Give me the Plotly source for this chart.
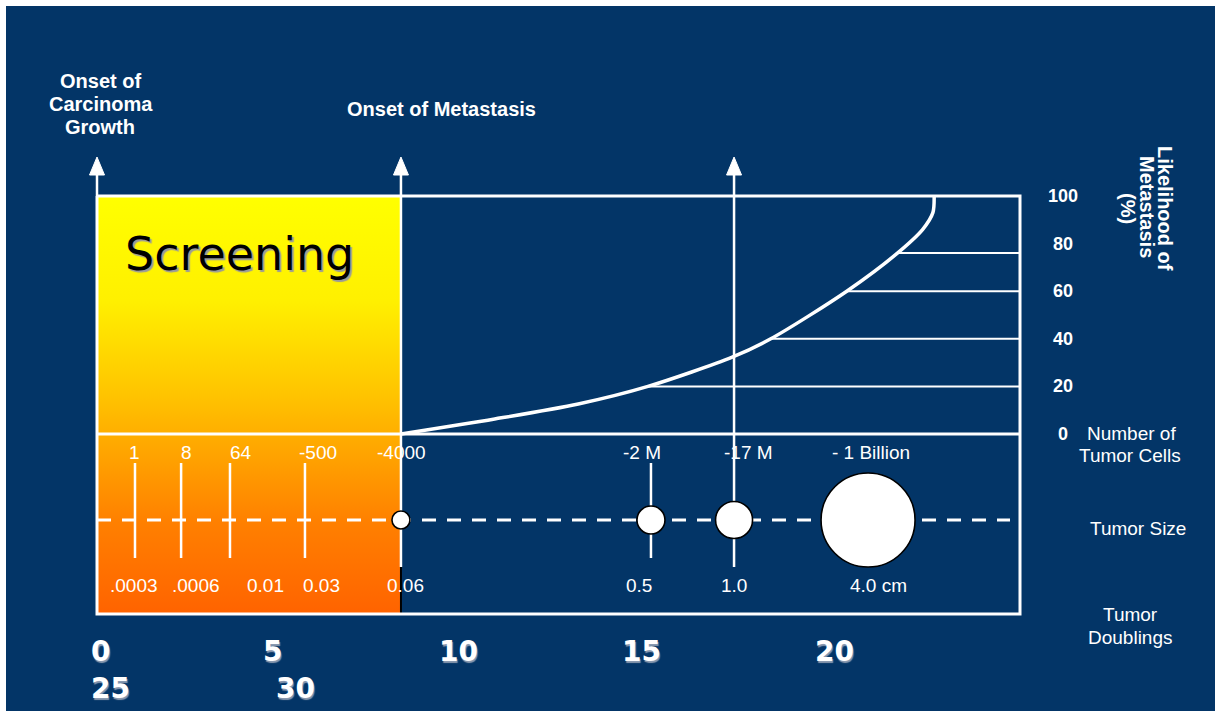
import plotly.graph_objects as go

# ---------------- data ----------------
# Likelihood of metastasis (%) against tumor doublings
curve_doublings = [12.0, 15.7, 19.0, 21.75, 25.1, 26.6, 29.6, 31.6, 32.6, 33.0, 33.05]
curve_percent = [0, 6.3, 12.6, 20, 32.4, 40, 60, 76, 86, 93, 100]

# Horizontal reference levels running from the curve to the right edge
level_percent = [20, 40, 60, 76]
level_start = [21.75, 26.6, 29.6, 31.6]

percent_ticks = [0, 20, 40, 60, 80, 100]

# Number of tumor cells / tumor size (cm) along the doubling scale
cell_pos = [1.5, 3.32, 5.25, 8.21, 12.0, 21.87, 25.15, 30.44]
cell_labels = ["1", "8", "64", "-500", "-4000", "-2 M", "-17 M", "- 1 Billion"]
size_labels = [".0003", ".0006", "0.01", "0.03", "0.06", "0.5", "1.0", "4.0 cm"]

# Tumor spheres drawn on the size line
sphere_pos = [12.0, 21.87, 25.15, 30.44]
sphere_cm = [0.06, 0.5, 1.0, 4.0]

# Milestones (tumor doublings)
carcinoma_onset = 0.0
metastasis_onset = 12.0
detection_mark = 25.15

doubling_labels = ["0", "5", "10", "15", "20", "25", "30"]

# ---------------- layout geometry ----------------
W, H = 1215, 711
K = 25.33          # pixels per doubling
P = 2.38           # pixels per percent
X0, Y0 = 97, 434   # pixel origin (0 doublings, 0 %)


def X(px):
    return (px - X0) / K


def Y(py):
    return (Y0 - py) / P


NAVY = "#033567"
WHITE = "#ffffff"
FONT = "Liberation Sans, Arial, sans-serif"

x_right = X(1020)
y_bottom = Y(614)
y_size_line = Y(520)
y_tick_top, y_tick_bot = Y(463), Y(558)
y_long_bot = Y(567)
y_arrow_tip, y_arrow_base = Y(157), Y(175)
half_head = 7.5 / K

fig = go.Figure()

# gradient screening column
fig.add_trace(go.Scatter(
    x=[carcinoma_onset, metastasis_onset, metastasis_onset, carcinoma_onset, carcinoma_onset],
    y=[y_bottom, y_bottom, 100, 100, y_bottom],
    fill="toself", mode="lines", line=dict(width=0),
    fillgradient=dict(type="vertical", colorscale=[
        [0.0, "#ff6300"], [0.22, "#ff8000"], [0.43, "#ffae00"],
        [0.52, "#ffc300"], [0.75, "#fff000"], [1.0, "#ffff00"]]),
    hoverinfo="skip", showlegend=False))

# dark edge of the column below the milestone line
fig.add_trace(go.Scatter(x=[metastasis_onset, metastasis_onset], y=[y_long_bot, y_bottom],
                         mode="lines", line=dict(color="#000000", width=2),
                         hoverinfo="skip", showlegend=False))

# frame and divider
fig.add_trace(go.Scatter(
    x=[0, x_right, x_right, 0, 0, None, 0, x_right],
    y=[100, 100, y_bottom, y_bottom, 100, None, 0, 0],
    mode="lines", line=dict(color=WHITE, width=3),
    hoverinfo="skip", showlegend=False))

# milestone verticals
fig.add_trace(go.Scatter(
    x=[carcinoma_onset, carcinoma_onset, None,
       metastasis_onset, metastasis_onset, None,
       detection_mark, detection_mark],
    y=[100, y_arrow_base + 1, None,
       y_arrow_base + 1, y_long_bot, None,
       y_arrow_base + 1, y_long_bot],
    mode="lines", line=dict(color=WHITE, width=2.5),
    hoverinfo="skip", showlegend=False))

# arrowheads
ax, ay = [], []
for m in [carcinoma_onset, metastasis_onset, detection_mark]:
    ax += [m - half_head, m + half_head, m, m - half_head, None]
    ay += [y_arrow_base, y_arrow_base, y_arrow_tip, y_arrow_base, None]
fig.add_trace(go.Scatter(x=ax, y=ay, fill="toself", fillcolor=WHITE, mode="lines",
                         line=dict(color=WHITE, width=1),
                         hoverinfo="skip", showlegend=False))

# reference levels
lx, ly = [], []
for s, lv in zip(level_start, level_percent):
    lx += [s, x_right, None]
    ly += [lv, lv, None]
fig.add_trace(go.Scatter(x=lx, y=ly, mode="lines", line=dict(color=WHITE, width=2),
                         hoverinfo="skip", showlegend=False))

# likelihood curve
fig.add_trace(go.Scatter(x=curve_doublings, y=curve_percent, mode="lines",
                         line=dict(color=WHITE, width=3.5, shape="spline", smoothing=0.8),
                         hoverinfo="skip", showlegend=False))

# dashed tumor-size line
fig.add_trace(go.Scatter(x=[0, X(1010)], y=[y_size_line, y_size_line], mode="lines",
                         line=dict(color=WHITE, width=3, dash="14px,11px"),
                         hoverinfo="skip", showlegend=False))

# small cell-count ticks
tx, ty = [], []
for i in [0, 1, 2, 3, 5]:
    tx += [cell_pos[i], cell_pos[i], None]
    ty += [y_tick_top, y_tick_bot, None]
fig.add_trace(go.Scatter(x=tx, y=ty, mode="lines", line=dict(color=WHITE, width=2.5),
                         hoverinfo="skip", showlegend=False))

# tumor spheres
sphere_px = [18, 28, 37, 94]
fig.add_trace(go.Scatter(x=sphere_pos, y=[y_size_line] * len(sphere_pos), mode="markers",
                         marker=dict(size=sphere_px, color=WHITE, opacity=1,
                                     line=dict(color="#000000", width=1.6)),
                         text=[f"{c} cm" for c in sphere_cm],
                         hoverinfo="text", showlegend=False))

ann = []


def txt(x, y, s, size=20, bold=False, color=WHITE, xanchor="center", yanchor="middle",
        xshift=0, yshift=0, family=FONT, angle=0, shadow=None):
    f = dict(family=family, size=size, color=color, weight=700 if bold else 400)
    if shadow:
        f["shadow"] = shadow
    ann.append(dict(x=x, y=y, xref="x", yref="y", text=s, showarrow=False, font=f,
                    xanchor=xanchor, yanchor=yanchor, xshift=xshift, yshift=yshift,
                    textangle=angle))


# cell counts and sizes
cell_shift = [0, 5, 11, 13, 1, -9, 14, 3]
size_shift = [-1, 15, 36, 17, 5, -12, 0, 10]
for p, lab, s in zip(cell_pos, cell_labels, cell_shift):
    txt(p, Y(452), lab, size=19, xshift=s)
for p, lab, s in zip(cell_pos, size_labels, size_shift):
    txt(p, Y(585), lab, size=19, xshift=s)

# percent ticks
for t in percent_ticks:
    txt(X(1063), t, str(t), size=18, bold=True)

# headings
txt(X(100), Y(81), "Onset of", bold=True)
txt(X(101), Y(104), "Carcinoma", bold=True)
txt(X(100), Y(127), "Growth", bold=True)
txt(X(441), Y(109), "Onset of Metastasis", bold=True)

# rotated axis title
txt(X(1165), Y(208), "Likelihood of", bold=True, angle=90)
txt(X(1147), Y(207), "Metastasis", bold=True, angle=90)
txt(X(1128), Y(208), "(%)", bold=True, angle=90)

# right-hand row labels
txt(X(1131), Y(433), "Number of", size=19)
txt(X(1130), Y(455), "Tumor Cells", size=19)
txt(X(1138), Y(528), "Tumor Size", size=19)
txt(X(1130), Y(614), "Tumor", size=19)
txt(X(1130), Y(637), "Doublings", size=19)

# screening label
txt(X(123), Y(254), "Screening", size=46, color="#000000", xanchor="left",
    family="DejaVu Sans, Verdana, sans-serif", shadow="2px 2px 1px #9a9a9a")

# doubling numbers along the bottom
num_px = [(100, 651), (272, 651), (458, 651), (641, 651), (834, 651), (110, 688), (295, 688)]
for lab, (px, py) in zip(doubling_labels, num_px):
    txt(X(px), Y(py), lab, size=28, bold=True, family="DejaVu Sans, sans-serif",
        shadow="1px 2px 1px #8a9ab0")

fig.update_layout(
    width=W, height=H, margin=dict(l=0, r=0, t=0, b=0),
    paper_bgcolor=WHITE, plot_bgcolor="rgba(0,0,0,0)",
    xaxis=dict(range=[X(0), X(W)], visible=False, fixedrange=True),
    yaxis=dict(range=[Y(H), Y(0)], visible=False, fixedrange=True),
    shapes=[dict(type="rect", xref="paper", yref="paper", x0=6 / W, x1=1, y0=0, y1=1 - 6 / H,
                 fillcolor=NAVY, line=dict(width=0), layer="below")],
    annotations=ann,
    showlegend=False,
)

fig.write_html("out.html")
